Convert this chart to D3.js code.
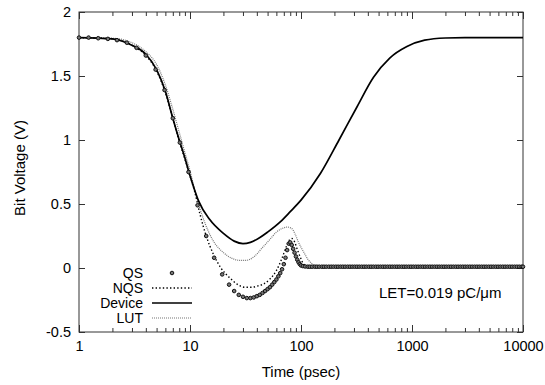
<!DOCTYPE html>
<html lang="en">
<head>
  <meta charset="utf-8">
  <title>Bit Voltage vs Time</title>
  <script src="https://d3js.org/d3.v7.min.js"></script>
  <style type="text/css">
    body { margin: 0; background: white; }
    text { font-family: "Liberation Sans", Arial, Helvetica, sans-serif; fill: black; }
  </style>
</head>
<body>
  <script type="text/javascript">

// time (psec), bit voltage (V)
const qsData = [
  [1, 1.80], [1.22, 1.80], [1.49, 1.795], [1.82, 1.79], [2.2, 1.78], [2.7, 1.76],
  [3.3, 1.72], [4.0, 1.66], [4.9, 1.55], [5.9, 1.39], [7.0, 1.17], [8.1, 0.98],
  [9.7, 0.75], [11.7, 0.49], [14.0, 0.25], [16.5, 0.08], [19.5, -0.05], [22.5, -0.13],
  [25, -0.18], [27.5, -0.21], [30, -0.225], [32.5, -0.235], [35, -0.235], [37.5, -0.23],
  [40, -0.22], [42.5, -0.21], [45, -0.195], [47.5, -0.18], [50, -0.165], [52.5, -0.15],
  [55, -0.13], [57.5, -0.11], [60, -0.09], [62.5, -0.065], [65, -0.04], [67.5, -0.01],
  [70, 0.03], [72.5, 0.08], [75, 0.14], [77.5, 0.19], [80, 0.20], [82.5, 0.18],
  [85, 0.15], [87.5, 0.12], [90, 0.09], [92.5, 0.065], [95, 0.045], [97.5, 0.03],
  [100, 0.02], [104, 0.015], [109, 0.012], [115, 0.01], [120, 0.01], [126, 0.01],
  [133, 0.01], [139, 0.01], [146, 0.01], [154, 0.01], [161, 0.01], [169, 0.01],
  [178, 0.01], [187, 0.01], [196, 0.01], [206, 0.01], [216, 0.01], [227, 0.01],
  [238, 0.01], [250, 0.01], [263, 0.01], [276, 0.01], [290, 0.01], [304, 0.01],
  [319, 0.01], [335, 0.01], [352, 0.01], [370, 0.01], [388, 0.01], [408, 0.01],
  [428, 0.01], [449, 0.01], [472, 0.01], [495, 0.01], [520, 0.01], [546, 0.01],
  [573, 0.01], [602, 0.01], [632, 0.01], [664, 0.01], [697, 0.01], [732, 0.01],
  [768, 0.01], [807, 0.01], [847, 0.01], [889, 0.01], [934, 0.01], [980, 0.01],
  [1029, 0.01], [1081, 0.01], [1135, 0.01], [1192, 0.01], [1251, 0.01], [1314, 0.01],
  [1380, 0.01], [1449, 0.01], [1521, 0.01], [1597, 0.01], [1677, 0.01], [1761, 0.01],
  [1849, 0.01], [1941, 0.01], [2038, 0.01], [2140, 0.01], [2247, 0.01], [2360, 0.01],
  [2478, 0.01], [2601, 0.01], [2732, 0.01], [2868, 0.01], [3012, 0.01], [3162, 0.01],
  [3320, 0.01], [3486, 0.01], [3661, 0.01], [3844, 0.01], [4036, 0.01], [4238, 0.01],
  [4450, 0.01], [4672, 0.01], [4906, 0.01], [5151, 0.01], [5409, 0.01], [5679, 0.01],
  [5963, 0.01], [6261, 0.01], [6574, 0.01], [6903, 0.01], [7248, 0.01], [7611, 0.01],
  [7991, 0.01], [8391, 0.01], [8810, 0.01], [9251, 0.01], [9713, 0.01], [10000, 0.01]
];

const nqsData = [
  [1, 1.80], [2, 1.79], [3, 1.74], [4, 1.66], [5, 1.54], [6, 1.37], [7, 1.17],
  [8, 0.99], [9, 0.85], [10, 0.72], [11, 0.60], [12.3, 0.42], [14, 0.25], [16.2, 0.11],
  [19, 0.0], [23, -0.08], [27, -0.13], [31, -0.15], [36, -0.15], [41, -0.14],
  [46, -0.125], [52, -0.09], [60, -0.02], [67, 0.07], [74, 0.17], [79, 0.22],
  [83, 0.23], [88, 0.20], [93, 0.14], [98, 0.09], [104, 0.04], [110, 0.02],
  [120, 0.012], [150, 0.01], [10000, 0.01]
];

const deviceData = [
  [1, 1.80], [2, 1.79], [2.5, 1.77], [3, 1.74], [4, 1.67], [5, 1.55], [6, 1.38],
  [7, 1.17], [8, 1.0], [9, 0.86], [10, 0.72], [11, 0.61], [12, 0.52], [15, 0.38],
  [20, 0.27], [25, 0.21], [30, 0.19], [35, 0.20], [43, 0.24], [50, 0.28], [65, 0.36],
  [80, 0.44], [100, 0.53], [150, 0.74], [220, 1.0], [320, 1.26], [450, 1.49],
  [630, 1.64], [900, 1.73], [1300, 1.78], [2000, 1.797], [3000, 1.80], [10000, 1.80]
];

const lutData = [
  [1, 1.80], [2, 1.795], [3, 1.76], [4, 1.69], [5, 1.59], [6, 1.43], [7, 1.24],
  [8, 1.06], [9, 0.90], [10, 0.76], [11.5, 0.55], [13, 0.40], [16, 0.22], [20, 0.12],
  [24, 0.075], [28, 0.06], [32, 0.06], [38, 0.09], [45, 0.16], [52, 0.22], [60, 0.28],
  [68, 0.31], [75, 0.32], [82, 0.31], [88, 0.27], [95, 0.20], [105, 0.13], [115, 0.07],
  [125, 0.035], [140, 0.015], [170, 0.01], [10000, 0.01]
];

const xTicks = [1, 10, 100, 1000, 10000];
const yTicks = [-0.5, 0, 0.5, 1, 1.5, 2];
const legendLabels = ["QS", "NQS", "Device", "LUT"];

const svgWidth = 545;
const svgHeight = 385;
const plotLeft = 79, plotRight = 523, plotTop = 12, plotBottom = 332;

const svg = d3.select("body")
    .append("svg")
    .attr("width", svgWidth)
    .attr("height", svgHeight);

const xScale = d3.scaleLog()
    .domain([1, 10000])
    .range([plotLeft, plotRight]);

const yScale = d3.scaleLinear()
    .domain([-0.5, 2])
    .range([plotBottom, plotTop]);

const minorTicks = xScale.ticks().filter(d => xTicks.indexOf(d) < 0);

function styleAxis(g) {
  g.selectAll("path.domain").remove();
  g.selectAll("line").attr("stroke", "#333");
  g.selectAll("text").style("font-size", "14.5px")
    .style("font-family", "'Liberation Sans', Arial, Helvetica, sans-serif");
}

// bottom
svg.append("g")
    .attr("transform", `translate(0, ${plotBottom})`)
    .call(d3.axisBottom(xScale).tickValues(xTicks).tickSize(-7).tickPadding(9)
      .tickFormat(d3.format("d")))
    .call(styleAxis);
svg.append("g")
    .attr("transform", `translate(0, ${plotBottom})`)
    .call(d3.axisBottom(xScale).tickValues(minorTicks).tickSize(-4).tickFormat(""))
    .call(styleAxis);
// top
svg.append("g")
    .attr("transform", `translate(0, ${plotTop})`)
    .call(d3.axisTop(xScale).tickValues(xTicks).tickSize(-7).tickFormat(""))
    .call(styleAxis);
svg.append("g")
    .attr("transform", `translate(0, ${plotTop})`)
    .call(d3.axisTop(xScale).tickValues(minorTicks).tickSize(-4).tickFormat(""))
    .call(styleAxis);
// left
svg.append("g")
    .attr("transform", `translate(${plotLeft}, 0)`)
    .call(d3.axisLeft(yScale).tickValues(yTicks).tickSize(-6).tickPadding(8)
      .tickFormat(d => String(d)))
    .call(styleAxis);
// right
svg.append("g")
    .attr("transform", `translate(${plotRight}, 0)`)
    .call(d3.axisRight(yScale).tickValues(yTicks).tickSize(-6).tickFormat(""))
    .call(styleAxis);

svg.append("rect")
    .attr("x", plotLeft)
    .attr("y", plotTop)
    .attr("width", plotRight - plotLeft)
    .attr("height", plotBottom - plotTop)
    .attr("fill", "none")
    .attr("stroke", "#333")
    .attr("stroke-width", 1);

const line = d3.line()
    .x(d => xScale(d[0]))
    .y(d => yScale(d[1]))
    .curve(d3.curveMonotoneX);

svg.append("path")
    .datum(lutData)
    .attr("d", line)
    .attr("fill", "none")
    .attr("stroke", "#777")
    .attr("stroke-width", 1.2)
    .attr("stroke-dasharray", "1,1");

svg.append("path")
    .datum(nqsData)
    .attr("d", line)
    .attr("fill", "none")
    .attr("stroke", "black")
    .attr("stroke-width", 1.4)
    .attr("stroke-dasharray", "1.4,2.2");

svg.append("path")
    .datum(deviceData)
    .attr("d", line)
    .attr("fill", "none")
    .attr("stroke", "black")
    .attr("stroke-width", 1.7);

svg.selectAll("circle.qs")
    .data(qsData)
    .enter()
    .append("circle")
    .attr("class", "qs")
    .attr("cx", d => xScale(d[0]))
    .attr("cy", d => yScale(d[1]))
    .attr("r", 1.8)
    .attr("fill", "#777")
    .attr("stroke", "#111")
    .attr("stroke-width", 1);

// legend
const legend = svg.append("g");
legendLabels.forEach((name, i) => {
  const ly = 273 + i * 15;
  legend.append("text")
      .attr("x", 143)
      .attr("y", ly)
      .attr("dy", "0.35em")
      .attr("text-anchor", "end")
      .style("font-size", "14px")
      .text(name);
});
legend.append("circle")
    .attr("cx", 172).attr("cy", 273).attr("r", 1.8)
    .attr("fill", "#777").attr("stroke", "#111").attr("stroke-width", 1);
legend.append("line")
    .attr("x1", 152).attr("x2", 192).attr("y1", 288).attr("y2", 288)
    .attr("stroke", "black").attr("stroke-width", 1.4).attr("stroke-dasharray", "1.4,2.2");
legend.append("line")
    .attr("x1", 152).attr("x2", 192).attr("y1", 303).attr("y2", 303)
    .attr("stroke", "black").attr("stroke-width", 1.7);
legend.append("line")
    .attr("x1", 152).attr("x2", 192).attr("y1", 318).attr("y2", 318)
    .attr("stroke", "#777").attr("stroke-width", 1.2).attr("stroke-dasharray", "1,1");

svg.append("text")
    .attr("x", 379)
    .attr("y", 298)
    .style("font-size", "15px")
    .text("LET=0.019 pC/\u03bcm");

svg.append("text")
    .attr("text-anchor", "middle")
    .attr("x", 301)
    .attr("y", 377)
    .style("font-size", "15px")
    .text("Time (psec)");

svg.append("text")
    .attr("text-anchor", "middle")
    .attr("transform", "translate(25, 168) rotate(-90)")
    .style("font-size", "15px")
    .text("Bit Voltage (V)");

  </script>
</body>
</html>
